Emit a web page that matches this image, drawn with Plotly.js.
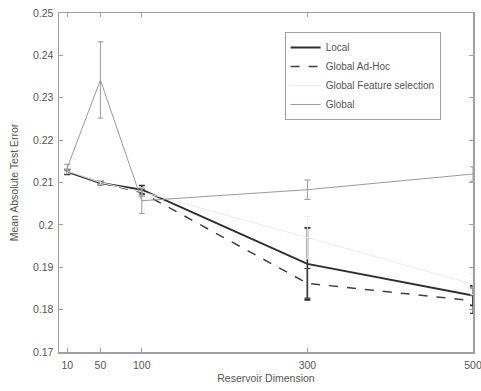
<!DOCTYPE html>
<html>
<head>
<meta charset="utf-8">
<script src="https://cdn.plot.ly/plotly-3.0.1.min.js"></script>
<style>html,body{margin:0;padding:0;background:#fff;}#chart{width:481px;height:391px;}</style>
</head>
<body>
<div id="chart"></div>
<script>
const dims = [10, 50, 100, 300, 500];

const localVals = [0.2125, 0.2099, 0.2083, 0.1908, 0.1833];
const localErr  = [0.0006, 0.0004, 0.0010, 0.0085, 0.0023];

const adhocVals = [0.2125, 0.2100, 0.2076, 0.1862, 0.1821];
const adhocErr  = [0.0005, 0.0004, 0.0008, 0.0035, 0.0030];

const featVals  = [0.2127, 0.2100, 0.2078, 0.1970, 0.1860];
const featErr   = [0.0005, 0.0004, 0.0010, 0.0050, 0.0025];

const globalVals = [0.2135, 0.2342, 0.2057, 0.2083, 0.2120];
const globalErr  = [0.0008, 0.0090, 0.0030, 0.0023, 0.0017];

const yTicks = [0.17, 0.18, 0.19, 0.2, 0.21, 0.22, 0.23, 0.24, 0.25];
const yTickText = ['0.17', '0.18', '0.19', '0.2', '0.21', '0.22', '0.23', '0.24', '0.25'];
const xTickText = ['10', '50', '100', '300', '500'];

function tr(name, y, err, color, width, dash) {
  return {
    x: dims, y: y, name: name, type: 'scatter', mode: 'lines',
    line: {color: color, width: width, dash: dash},
    error_y: {type: 'data', array: err, visible: true, color: color, thickness: Math.max(1, width * 0.8), width: 3}
  };
}

const data = [
  tr('Local', localVals, localErr, '#2e2e2e', 2, 'solid'),
  tr('Global Ad-Hoc', adhocVals, adhocErr, '#404040', 1.5, 'dash'),
  tr('Global Feature selection', featVals, featErr, '#ebebeb', 1, 'solid'),
  tr('Global', globalVals, globalErr, '#9a9a9a', 1, 'solid')
];

const fontFam = 'Liberation Sans, Arial, sans-serif';
const axisCommon = {
  showline: true, mirror: 'allticks', linecolor: '#a0a0a0', linewidth: 1.5,
  ticks: 'inside', ticklen: 4, tickcolor: '#a0a0a0', showgrid: false, zeroline: false,
  ticklabeloverflow: 'allow',
  tickfont: {family: fontFam, size: 10.5, color: '#555'}
};

const layout = {
  width: 481, height: 391,
  margin: {l: 59, r: 8, t: 13, b: 39},
  paper_bgcolor: '#fff', plot_bgcolor: '#fff',
  showlegend: true,
  xaxis: Object.assign({}, axisCommon, {
    range: [0, 500], tickvals: dims, ticktext: xTickText, ticklabelstandoff: 3,
    title: {text: 'Reservoir Dimension', standoff: 4, font: {family: fontFam, size: 10.5, color: '#555'}}
  }),
  yaxis: Object.assign({}, axisCommon, {
    range: [0.17, 0.25], tickvals: yTicks, ticktext: yTickText, ticklabelstandoff: 2,
    title: {text: 'Mean Absolute Test Error', standoff: 12, font: {family: fontFam, size: 10.5, color: '#555'}}
  }),
  legend: {
    x: 0.545, y: 0.944, xanchor: 'left', yanchor: 'top',
    bgcolor: '#fff', bordercolor: '#a0a0a0', borderwidth: 1,
    font: {family: fontFam, size: 10, color: '#555'},
    tracegroupgap: 0, itemwidth: 30
  }
};

Plotly.newPlot('chart', data, layout, {displayModeBar: false, staticPlot: true});
</script>
</body>
</html>
